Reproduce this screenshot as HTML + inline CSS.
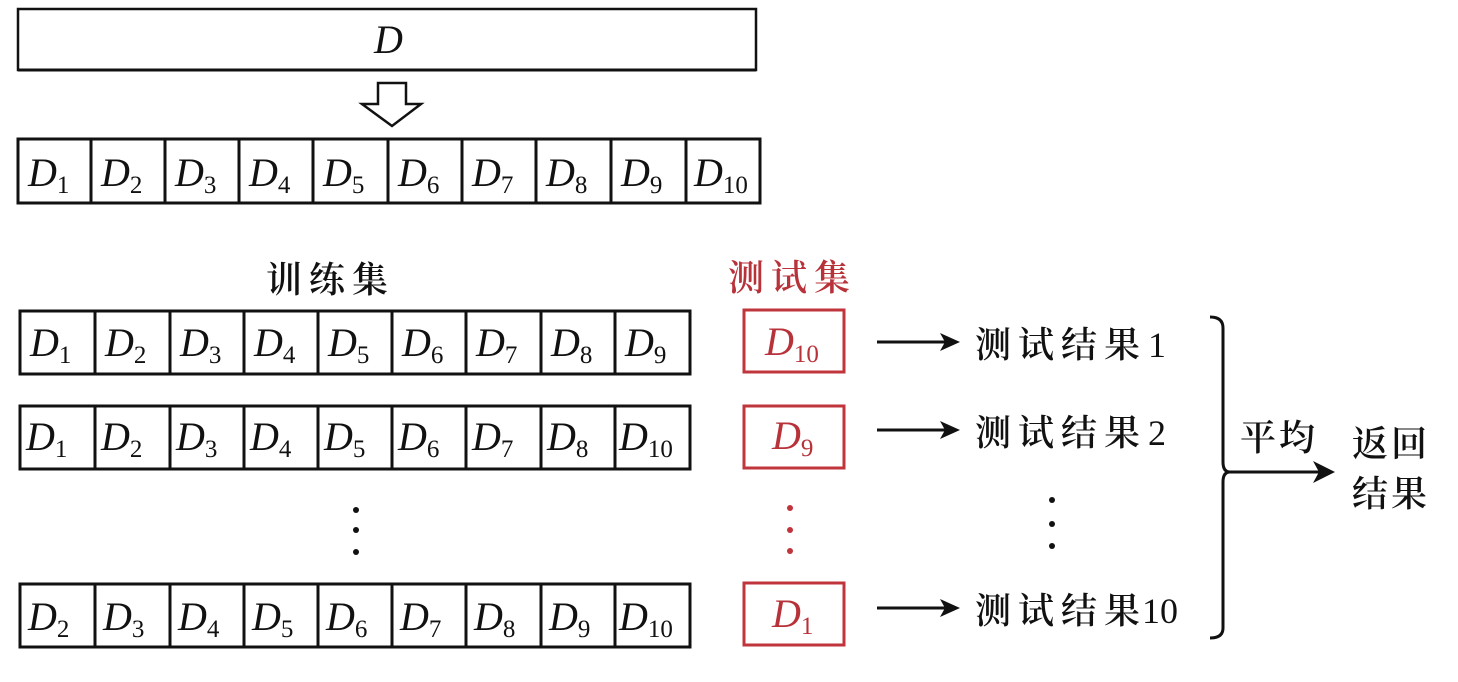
<!DOCTYPE html>
<html><head><meta charset="utf-8"><style>
html,body{margin:0;padding:0;background:#fff;}
svg{display:block}
.d{font-family:"Liberation Serif",serif;font-style:italic;font-size:40px;fill:#111}
.s{font-family:"Liberation Serif",serif;font-style:normal;font-size:25px}
.cj{font-family:"Liberation Serif","Noto Serif CJK SC","Noto Sans CJK SC",serif;font-size:36px;fill:#111;letter-spacing:7px;font-weight:600}
.n{letter-spacing:0;font-weight:400}
</style></head><body>
<svg width="1458" height="682" viewBox="0 0 1458 682" xmlns="http://www.w3.org/2000/svg">
<rect x="18" y="9" width="738" height="61" fill="#fff" stroke="#111" stroke-width="2.5"/>
<line x1="18" y1="70" x2="756" y2="70" stroke="#111" stroke-width="3"/>
<text class="d" x="374" y="53">D</text>
<polygon points="378,83 406,83 406,104 421,104 392,126 362,104 378,104" fill="#fff" stroke="#111" stroke-width="2.5"/>
<g stroke="#111" stroke-width="3" fill="none">
<rect x="18" y="139" width="742" height="64"/>
<path d="M91 139V203M165 139V203M239 139V203M313 139V203M388 139V203M462 139V203M536 139V203M611 139V203M686 139V203"/>
</g>
<g class="d">
<text x="28" y="186">D<tspan class="s" dy="7">1</tspan></text>
<text x="101" y="186">D<tspan class="s" dy="7">2</tspan></text>
<text x="175" y="186">D<tspan class="s" dy="7">3</tspan></text>
<text x="249" y="186">D<tspan class="s" dy="7">4</tspan></text>
<text x="323" y="186">D<tspan class="s" dy="7">5</tspan></text>
<text x="398" y="186">D<tspan class="s" dy="7">6</tspan></text>
<text x="472" y="186">D<tspan class="s" dy="7">7</tspan></text>
<text x="546" y="186">D<tspan class="s" dy="7">8</tspan></text>
<text x="621" y="186">D<tspan class="s" dy="7">9</tspan></text>
<text x="694" y="186">D<tspan class="s" dy="7">10</tspan></text>
</g>
<text class="cj" x="266" y="292">训练集</text>
<text class="cj" x="728" y="290" style="fill:#b8323a">测试集</text>
<g stroke="#111" stroke-width="3" fill="none">
<rect x="20" y="311" width="670" height="63"/>
<rect x="20" y="406" width="670" height="63"/>
<rect x="20" y="584" width="670" height="63"/>
<path d="M95 311V374M170 311V374M244 311V374M318 311V374M392 311V374M466 311V374M541 311V374M615 311V374"/>
<path d="M95 406V469M170 406V469M244 406V469M318 406V469M392 406V469M466 406V469M541 406V469M615 406V469"/>
<path d="M95 584V647M170 584V647M244 584V647M318 584V647M392 584V647M466 584V647M541 584V647M615 584V647"/>
</g>
<g class="d">
<text x="30" y="356">D<tspan class="s" dy="7">1</tspan></text>
<text x="105" y="356">D<tspan class="s" dy="7">2</tspan></text>
<text x="180" y="356">D<tspan class="s" dy="7">3</tspan></text>
<text x="254" y="356">D<tspan class="s" dy="7">4</tspan></text>
<text x="328" y="356">D<tspan class="s" dy="7">5</tspan></text>
<text x="402" y="356">D<tspan class="s" dy="7">6</tspan></text>
<text x="476" y="356">D<tspan class="s" dy="7">7</tspan></text>
<text x="551" y="356">D<tspan class="s" dy="7">8</tspan></text>
<text x="625" y="356">D<tspan class="s" dy="7">9</tspan></text>
<text x="26" y="450">D<tspan class="s" dy="7">1</tspan></text>
<text x="101" y="450">D<tspan class="s" dy="7">2</tspan></text>
<text x="176" y="450">D<tspan class="s" dy="7">3</tspan></text>
<text x="250" y="450">D<tspan class="s" dy="7">4</tspan></text>
<text x="324" y="450">D<tspan class="s" dy="7">5</tspan></text>
<text x="398" y="450">D<tspan class="s" dy="7">6</tspan></text>
<text x="472" y="450">D<tspan class="s" dy="7">7</tspan></text>
<text x="547" y="450">D<tspan class="s" dy="7">8</tspan></text>
<text x="619" y="450">D<tspan class="s" dy="7">10</tspan></text>
<text x="28" y="630">D<tspan class="s" dy="7">2</tspan></text>
<text x="103" y="630">D<tspan class="s" dy="7">3</tspan></text>
<text x="178" y="630">D<tspan class="s" dy="7">4</tspan></text>
<text x="252" y="630">D<tspan class="s" dy="7">5</tspan></text>
<text x="326" y="630">D<tspan class="s" dy="7">6</tspan></text>
<text x="400" y="630">D<tspan class="s" dy="7">7</tspan></text>
<text x="474" y="630">D<tspan class="s" dy="7">8</tspan></text>
<text x="549" y="630">D<tspan class="s" dy="7">9</tspan></text>
<text x="619" y="630">D<tspan class="s" dy="7">10</tspan></text>
</g>
<g fill="#111"><circle cx="356" cy="510" r="3"/><circle cx="356" cy="530" r="3"/><circle cx="356" cy="552" r="3"/>
<circle cx="1052" cy="500" r="3"/><circle cx="1052" cy="524" r="3"/><circle cx="1052" cy="546" r="3"/></g>
<g fill="#c0343c"><circle cx="790" cy="508" r="3"/><circle cx="790" cy="530" r="3"/><circle cx="790" cy="551" r="3"/></g>
<g stroke="#c0343c" stroke-width="3" fill="none">
<rect x="744" y="310" width="100" height="62"/>
<rect x="744" y="406" width="100" height="62"/>
<rect x="744" y="583" width="100" height="62"/>
</g>
<g class="d" style="fill:#b8323a">
<text x="765" y="355">D<tspan class="s" dy="7">10</tspan></text>
<text x="772" y="449">D<tspan class="s" dy="7">9</tspan></text>
<text x="772" y="627">D<tspan class="s" dy="7">1</tspan></text>
</g>
<g stroke="#111" stroke-width="3">
<line x1="877" y1="342" x2="945" y2="342"/>
<line x1="877" y1="430" x2="945" y2="430"/>
<line x1="877" y1="608" x2="945" y2="608"/>
<line x1="1225" y1="472" x2="1320" y2="472"/>
</g>
<g fill="#111">
<path d="M960 342 L940 333 L945 342 L940 351Z"/>
<path d="M960 430 L940 421 L945 430 L940 439Z"/>
<path d="M960 608 L940 599 L945 608 L940 617Z"/>
<path d="M1335 472 L1313 461 L1319 472 L1313 483Z"/>
</g>
<text class="cj" x="975" y="357">测试结果<tspan class="n" x="1148">1</tspan></text>
<text class="cj" x="975" y="445">测试结果<tspan class="n" x="1148">2</tspan></text>
<text class="cj" x="975" y="623">测试结果<tspan class="n" x="1142">10</tspan></text>
<path d="M1210 317 Q1223 317 1223 328 V462 Q1223 472 1230 472 Q1223 472 1223 482 V628 Q1223 638 1210 638" fill="none" stroke="#111" stroke-width="3"/>
<text class="cj" x="1240" y="450" style="letter-spacing:3px">平均</text>
<text class="cj" x="1352" y="456" style="letter-spacing:3px">返回</text>
<text class="cj" x="1352" y="506" style="letter-spacing:3px">结果</text>
</svg>
</body></html>
